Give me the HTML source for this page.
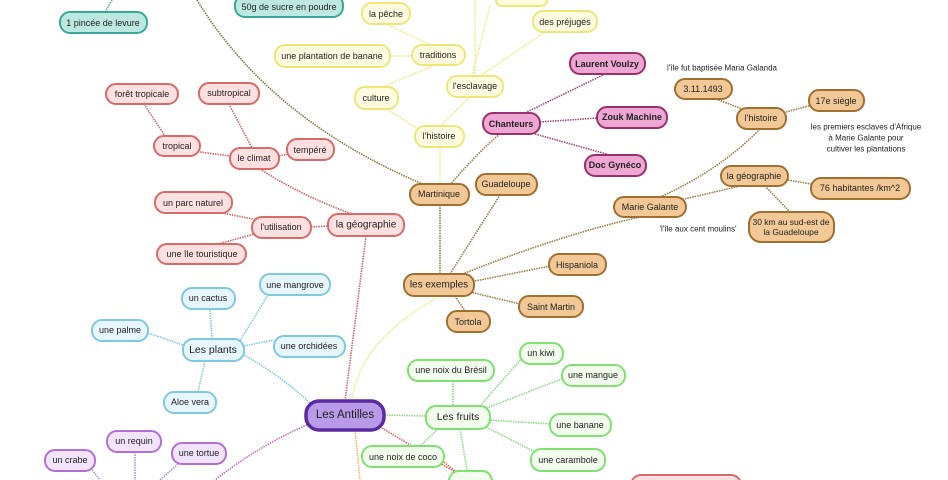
<!DOCTYPE html>
<html><head><meta charset="utf-8"><style>
body{margin:0;background:#fff}
svg{display:block}
text{font-family:"Liberation Sans",sans-serif;font-size:9px;fill:#222;text-anchor:middle;dominant-baseline:central}
.l{fill:none;stroke-width:1.6;stroke-dasharray:1.5 1}
</style></head><body>
<svg width="948" height="480" viewBox="0 0 948 480" xmlns="http://www.w3.org/2000/svg">
<path class="l" stroke="#4fa99c" d="M105 12 L112 0"/>
<path class="l" stroke="#8a7440" d="M197 0 Q270 120 425 185"/>
<g stroke="#f0e98a">
<path class="l" d="M386 24 L435 47"/>
<path class="l" d="M390 56 L412 56"/>
<path class="l" d="M380 88 L435 65"/>
<path class="l" d="M385 108 L420 130"/>
<path class="l" d="M440 126 L470 97"/>
<path class="l" d="M472 76 L490 6"/>
<path class="l" d="M480 76 L545 32"/>
<path class="l" d="M475 76 L475 0"/>
<path class="l" d="M440 147 L440 185"/>
<path class="l" d="M352 400 Q360 340 440 296"/>
</g>
<g stroke="#9a7a45">
<path class="l" d="M440 205 L440 274"/>
<path class="l" d="M450 274 L500 195"/>
<path class="l" d="M460 275 Q560 235 640 217"/>
<path class="l" d="M470 282 L550 266"/>
<path class="l" d="M470 292 L520 304"/>
<path class="l" d="M455 296 L465 311"/>
<path class="l" d="M450 185 Q480 150 500 134"/>
<path class="l" d="M660 197 Q720 170 760 129"/>
<path class="l" d="M680 200 L740 186"/>
<path class="l" d="M716 99 L745 110"/>
<path class="l" d="M786 112 L812 105"/>
<path class="l" d="M788 180 L811 184"/>
<path class="l" d="M765 186 L790 212"/>
</g>
<g stroke="#a04a80">
<path class="l" d="M525 113 L605 74"/>
<path class="l" d="M540 122 L597 118"/>
<path class="l" d="M535 134 L610 155"/>
</g>
<g stroke="#d06565">
<path class="l" d="M144 104 L165 136"/>
<path class="l" d="M230 106 L252 148"/>
<path class="l" d="M200 152 L230 156"/>
<path class="l" d="M279 156 L288 154"/>
<path class="l" d="M260 169 Q300 195 352 214"/>
<path class="l" d="M222 213 L258 220"/>
<path class="l" d="M311 227 L328 226"/>
<path class="l" d="M218 244 L258 233"/>
<path class="l" d="M345 401 L366 236"/>
<path class="l" d="M382 428 L460 475"/>
</g>
<g stroke="#80c8e0">
<path class="l" d="M235 349 L268 295"/>
<path class="l" d="M212 339 L210 309"/>
<path class="l" d="M148 333 L183 345"/>
<path class="l" d="M244 346 L274 340"/>
<path class="l" d="M205 361 L198 392"/>
<path class="l" d="M244 355 Q280 375 310 403"/>
</g>
<g stroke="#8ed885">
<path class="l" d="M384 415 L426 416"/>
<path class="l" d="M453 381 L453 406"/>
<path class="l" d="M480 406 L522 358"/>
<path class="l" d="M484 409 L564 378"/>
<path class="l" d="M488 420 L550 424"/>
<path class="l" d="M484 426 L535 452"/>
<path class="l" d="M438 429 L420 446"/>
<path class="l" d="M460 429 L467 470"/>
</g>
<path class="l" stroke="#c070c0" d="M307 425 Q260 445 215 480"/>
<g stroke="#b58ad8">
<path class="l" d="M135 452 L135 480"/>
<path class="l" d="M178 464 L160 480"/>
<path class="l" d="M92 470 L100 480"/>
</g>
<path class="l" stroke="#e8b860" d="M355 430 L360 480"/>
<path class="l" stroke="#d07060" d="M444 462 L460 475"/>

<g stroke-width="2">
<g fill="#bde8e0" stroke="#3aa898">
<rect x="60" y="12" width="87" height="21" rx="10"/>
<rect x="235" y="-5" width="108" height="22" rx="10"/>
</g>
<g fill="#fefbe0" stroke="#ede77a">
<rect x="362" y="3" width="48" height="21" rx="10"/>
<rect x="275" y="45" width="115" height="22" rx="10"/>
<rect x="412" y="45" width="53" height="20" rx="10"/>
<rect x="355" y="87" width="43" height="22" rx="10"/>
<rect x="415" y="126" width="49" height="21" rx="10"/>
<rect x="447" y="76" width="56" height="21" rx="10"/>
<rect x="533" y="11" width="64" height="21" rx="10"/>
<rect x="496" y="-6" width="51" height="12" rx="6"/>
</g>
<g fill="#f2c896" stroke="#a07030">
<rect x="410" y="184" width="59" height="21" rx="10"/>
<rect x="476" y="174" width="61" height="21" rx="10"/>
<rect x="675" y="79" width="57" height="20" rx="10"/>
<rect x="737" y="108" width="49" height="21" rx="10"/>
<rect x="809" y="90" width="55" height="21" rx="10"/>
<rect x="721" y="166" width="67" height="20" rx="10"/>
<rect x="811" y="178" width="99" height="21" rx="10"/>
<rect x="749" y="212" width="85" height="30" rx="12"/>
<rect x="614" y="197" width="72" height="20" rx="10"/>
<rect x="404" y="274" width="70" height="22" rx="10"/>
<rect x="549" y="254" width="57" height="21" rx="10"/>
<rect x="519" y="296" width="64" height="21" rx="10"/>
<rect x="447" y="311" width="43" height="21" rx="10"/>
</g>
<g fill="#eea6d2" stroke="#983070">
<rect x="483" y="113" width="57" height="21" rx="10"/>
<rect x="570" y="53" width="75" height="21" rx="10"/>
<rect x="597" y="107" width="70" height="21" rx="10"/>
<rect x="585" y="155" width="61" height="21" rx="10"/>
</g>
<g fill="#fde0e0" stroke="#d86a6a">
<rect x="106" y="84" width="72" height="20" rx="10"/>
<rect x="199" y="83" width="60" height="21" rx="10"/>
<rect x="154" y="136" width="46" height="20" rx="10"/>
<rect x="230" y="148" width="49" height="21" rx="10"/>
<rect x="287" y="139" width="47" height="21" rx="10"/>
<rect x="155" y="192" width="77" height="21" rx="10"/>
<rect x="252" y="217" width="59" height="21" rx="10"/>
<rect x="328" y="214" width="76" height="22" rx="10"/>
<rect x="157" y="244" width="89" height="20" rx="10"/>
<rect x="631" y="475" width="110" height="20" rx="10"/>
</g>
<g fill="#e6f6fc" stroke="#80c8e0">
<rect x="260" y="274" width="70" height="21" rx="10"/>
<rect x="182" y="288" width="53" height="21" rx="10"/>
<rect x="92" y="320" width="56" height="21" rx="10"/>
<rect x="274" y="336" width="71" height="21" rx="10"/>
<rect x="183" y="339" width="61" height="22" rx="10"/>
<rect x="164" y="392" width="52" height="21" rx="10"/>
</g>
<rect x="306" y="401" width="78" height="29" rx="13" fill="#b89ae8" stroke="#5a2aa0" stroke-width="3.5"/>
<g fill="#f2fdee" stroke="#80e070">
<rect x="408" y="360" width="86" height="21" rx="10"/>
<rect x="426" y="406" width="64" height="23" rx="10"/>
<rect x="520" y="343" width="43" height="21" rx="10"/>
<rect x="562" y="365" width="63" height="21" rx="10"/>
<rect x="550" y="414" width="61" height="22" rx="10"/>
<rect x="531" y="449" width="74" height="22" rx="10"/>
<rect x="362" y="446" width="82" height="21" rx="10"/>
<rect x="449" y="471" width="43" height="20" rx="10"/>
</g>
<g fill="#f2e4fc" stroke="#b070d8">
<rect x="107" y="431" width="54" height="21" rx="10"/>
<rect x="172" y="443" width="54" height="21" rx="10"/>
<rect x="45" y="450" width="50" height="21" rx="10"/>
</g>
</g>

<text x="103" y="23">1 pincée de levure</text>
<text x="289" y="7">50g de sucre en poudre</text>
<text x="386" y="14">la pêche</text>
<text x="332" y="56">une plantation de banane</text>
<text x="438" y="55">traditions</text>
<text x="376" y="98">culture</text>
<text x="439" y="136">l'histoire</text>
<text x="475" y="86">l'esclavage</text>
<text x="565" y="22">des préjugés</text>
<text x="439" y="194">Martinique</text>
<text x="506" y="184">Guadeloupe</text>
<text x="511" y="124" font-weight="bold">Chanteurs</text>
<text x="607" y="64" font-weight="bold">Laurent Voulzy</text>
<text x="632" y="117" font-weight="bold">Zouk Machine</text>
<text x="615" y="165" font-weight="bold">Doc Gynéco</text>
<text x="722" y="68" style="font-size:8px">l'île fut baptisée Maria Galanda</text>
<text x="703" y="89">3.11.1493</text>
<text x="761" y="118">l'histoire</text>
<text x="836" y="101">17e siègle</text>
<text x="866" y="127" style="font-size:8px">les premiers esclaves d'Afrique</text>
<text x="866" y="138" style="font-size:8px">à Marie Galante pour</text>
<text x="866" y="149" style="font-size:8px">cultiver les plantations</text>
<text x="754" y="176">la géographie</text>
<text x="860" y="188">76 habitantes /km^2</text>
<text x="791" y="222" style="font-size:8.5px">30 km au sud-est de</text>
<text x="791" y="232" style="font-size:8.5px">la Guadeloupe</text>
<text x="650" y="207">Marie Galante</text>
<text x="698" y="229" style="font-size:8px">'l'île aux cent moulins'</text>
<text x="439" y="285" style="font-size:10px">les exemples</text>
<text x="577" y="265">Hispaniola</text>
<text x="551" y="307">Saint Martin</text>
<text x="468" y="322">Tortola</text>
<text x="142" y="94">forêt tropicale</text>
<text x="229" y="93">subtropical</text>
<text x="177" y="146">tropical</text>
<text x="254" y="158">le climat</text>
<text x="310" y="150">tempéré</text>
<text x="193" y="203">un parc naturel</text>
<text x="281" y="227">l'utilisation</text>
<text x="366" y="225" style="font-size:10px">la géographie</text>
<text x="202" y="254">une île touristique</text>
<text x="295" y="285">une mangrove</text>
<text x="208" y="298">un cactus</text>
<text x="120" y="330">une palme</text>
<text x="309" y="346">une orchidées</text>
<text x="213" y="350" style="font-size:10.5px">Les plants</text>
<text x="190" y="402">Aloe vera</text>
<text x="345" y="415" style="font-size:11.5px">Les Antilles</text>
<text x="451" y="370">une noix du Brésil</text>
<text x="458" y="417" style="font-size:10.5px">Les fruits</text>
<text x="541" y="353">un kiwi</text>
<text x="593" y="375">une mangue</text>
<text x="580" y="425">une banane</text>
<text x="568" y="460">une carambole</text>
<text x="403" y="457">une noix de coco</text>
<text x="134" y="441">un requin</text>
<text x="199" y="453">une tortue</text>
<text x="70" y="460">un crabe</text>
</svg>
</body></html>
